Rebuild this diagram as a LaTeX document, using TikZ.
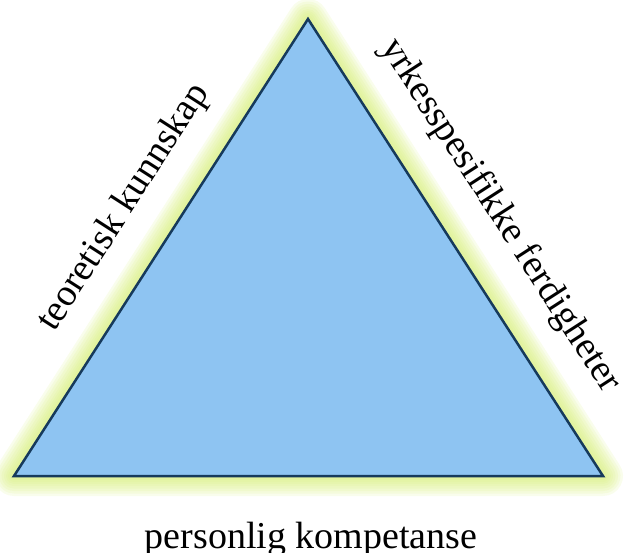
\documentclass[tikz,border=0pt]{standalone}
\usepackage{fontspec}
\setmainfont{Liberation Serif}
\usepackage{tikz}
\usepackage{xcolor}
\usetikzlibrary{calc}
\definecolor{fillblue}{HTML}{8EC4F2}
\definecolor{edgeblue}{HTML}{163A5C}
\definecolor{glowlime}{HTML}{D6EE78}

\begin{document}
\begin{tikzpicture}[x=1pt, y=-1pt,
    glow/.style={draw=glowlime, line join=round, opacity=0.14},
    side/.style={font=\fontsize{38}{42}\selectfont, inner sep=0pt, sloped}]

    % Fix the page size
    \useasboundingbox (0, 0) rectangle (627, 553);
    \clip (0, 0) rectangle (627, 553);

    % Corners of the triangle
    \coordinate (top) at (308, 19);
    \coordinate (left) at (14, 476);
    \coordinate (right) at (603, 476);

    % Soft glow round the triangle
    \foreach \w in {40, 35, 30, 25, 20, 16, 12, 8} {
        \draw[glow, line width=\w pt] (top) -- (right) -- (left) -- cycle;
    }

    % The triangle itself
    \draw[fill=fillblue, draw=edgeblue, line width=2.5pt, line join=miter]
        (top) -- (right) -- (left) -- cycle;

    % Labels along the sides
    \path (left) -- node[side, pos=0.525, above=35pt] (theory) {teoretisk kunnskap} (top);
    \path (top) -- node[side, pos=0.495, above=37pt] (skills) {yrkesspesifikke ferdigheter} (right);

    % Label under the base
    \node[font=\fontsize{38}{42}\selectfont, anchor=base, inner sep=0pt] (personal) at (311, 548) {personlig kompetanse};

\end{tikzpicture}
\end{document}
